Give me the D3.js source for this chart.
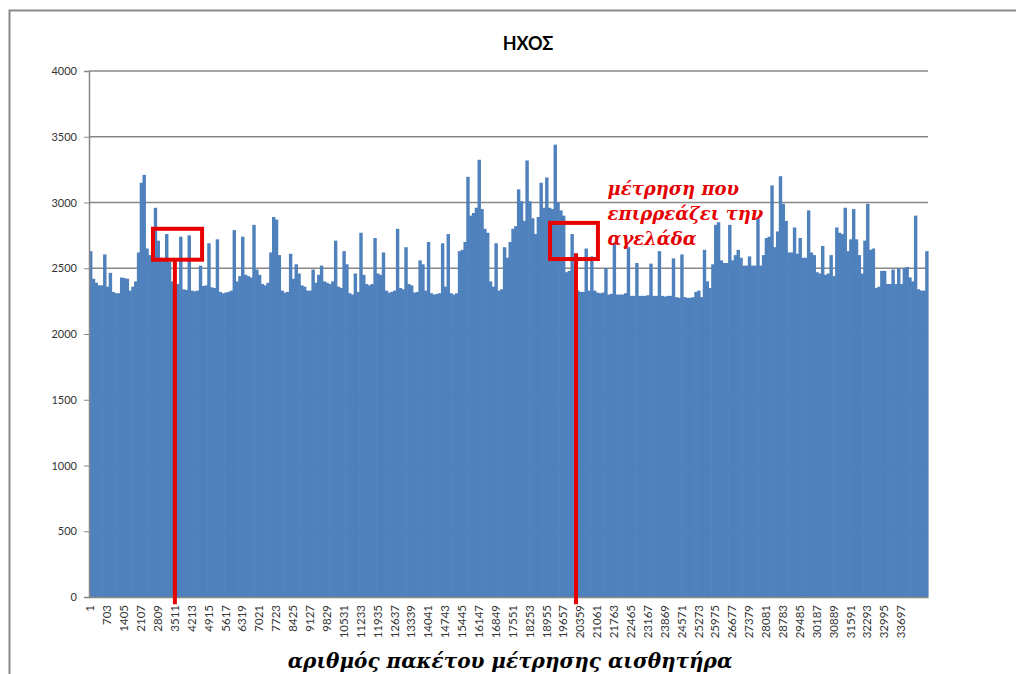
<!DOCTYPE html>
<html>
<head>
<meta charset="utf-8">
<script src="https://cdn.jsdelivr.net/npm/d3@7"></script>
<style>
  body { margin: 0; background: #fff; }
  svg { display: block; }
</style>
</head>
<body>
<script>
// sound level per measurement packet (each value ~ a group of 117 packets)

const title = "ΗΧΟΣ";
const xTitle = "αριθμός πακέτου μέτρησης αισθητήρα";
const noteLines = ["μέτρηση που", "επιρρεάζει την", "αγελάδα"];

const packetStep = 117;

// values, left to right
const sound = [
  2630, 2420, 2390, 2370, 2370, 2605, 2360, 2465, 2320, 2310,
  2310, 2430, 2425, 2420, 2330, 2360, 2400, 2620, 3150, 3210,
  2650, 2600, 2580, 2960, 2710, 2580, 2560, 2760, 2550, 2400,
  2370, 2380, 2740, 2340, 2335, 2750, 2330, 2325, 2330, 2520,
  2365, 2370, 2690, 2355, 2350, 2720, 2320, 2310, 2315, 2320,
  2330, 2790, 2400, 2440, 2740, 2450, 2440, 2430, 2830, 2490,
  2450, 2380, 2370, 2390, 2620, 2890, 2870, 2600, 2330, 2315,
  2320, 2610, 2420, 2530, 2460, 2370, 2360, 2330, 2330, 2490,
  2390, 2450, 2520, 2400, 2390, 2380, 2400, 2710, 2360, 2350,
  2630, 2530, 2310, 2300, 2460, 2320, 2770, 2450, 2380, 2370,
  2380, 2730, 2460, 2450, 2620, 2330, 2315, 2320, 2330, 2800,
  2350, 2340, 2660, 2380, 2370, 2315, 2320, 2560, 2530, 2330,
  2700, 2310, 2300, 2305, 2310, 2690, 2360, 2760, 2310, 2300,
  2310, 2630, 2640, 2700, 3195, 2900, 2920, 2960, 3325, 2950,
  2800, 2770, 2400, 2360, 2690, 2330, 2340, 2660, 2580, 2700,
  2800, 2820, 3100, 3010, 2860, 3320, 3010, 2880, 2760, 2890,
  3150, 2960, 3190, 2960, 2950, 3440, 3000, 2940, 2900, 2470,
  2480, 2760, 2480, 2330, 2320, 2320, 2650, 2330, 2590, 2330,
  2315, 2310, 2315, 2500, 2300, 2305, 2695, 2300, 2300, 2300,
  2310, 2660, 2290, 2290, 2540, 2290, 2290, 2290, 2295, 2535,
  2290, 2290, 2630, 2290, 2285, 2290, 2290, 2575, 2280, 2275,
  2605, 2280, 2275, 2275, 2280, 2320, 2330, 2280, 2640, 2400,
  2350, 2530, 2830, 2850, 2560, 2540, 2540, 2830, 2560, 2600,
  2640, 2580, 2520, 2520, 2590, 2520, 2520, 2880, 2520, 2600,
  2730, 2740, 3130, 2660, 2780, 3200, 2990, 2860, 2620, 2620,
  2810, 2610, 2730, 2580, 2580, 2940, 2620, 2600, 2470, 2460,
  2670, 2450, 2460, 2600, 2440, 2810, 2770, 2760, 2960, 2630,
  2720, 2950, 2720, 2600, 2460, 2710, 2990, 2640, 2650, 2350,
  2360, 2480, 2480, 2380, 2380, 2490, 2380, 2500, 2380, 2500,
  2510, 2430, 2400, 2900, 2340, 2330, 2330, 2630
];

const packets = sound.map((v, i) => 1 + packetStep * i);

const tickLabels = [
  1, 703, 1405, 2107, 2809, 3511, 4213, 4915, 5617, 6319, 7021, 7723,
  8425, 9127, 9829, 10531, 11233, 11935, 12637, 13339, 14041, 14743,
  15445, 16147, 16849, 17551, 18253, 18955, 19657, 20359, 21061, 21763,
  22465, 23167, 23869, 24571, 25273, 25975, 26677, 27379, 28081, 28783,
  29485, 30187, 30889, 31591, 32293, 32995, 33697
];

const yTicks = [0, 500, 1000, 1500, 2000, 2500, 3000, 3500, 4000];

// the two red marked measurements: packet range, value range, pointer packet
const marks = [
  {from: 2660, to: 4700, low: 2565, high: 2800, pointer: 3570, top: 2565},
  {from: 19160, to: 21150, low: 2570, high: 2845, pointer: 20240, top: 2615}
];
const noteAt = {packet: 21550, value: 3057, step: 190};

const width = 1016;
const height = 674;
const margin = {top: 71, right: 88, bottom: 77, left: 89};

const svg = d3.select("body")
    .append("svg")
    .attr("width", width)
    .attr("height", height);

// outer frame (only top and left edges are visible)
svg.append("path")
    .attr("d", "M9.5,674 V10.5 H1016")
    .attr("fill", "none")
    .attr("stroke", "#8a8a8a")
    .attr("stroke-width", 2);

const x = d3.scaleBand()
    .domain(packets)
    .range([margin.left, width - margin.right])
    .padding(0);

const xPk = d3.scaleLinear()
    .domain([1, 1 + packetStep * sound.length])
    .range([margin.left, width - margin.right]);

const y = d3.scaleLinear()
    .domain([0, 4000])
    .range([height - margin.bottom, margin.top]);

// grid lines
svg.append("g")
    .selectAll("line")
    .data(yTicks.slice(1))
    .join("line")
    .attr("x1", margin.left)
    .attr("x2", width - margin.right)
    .attr("y1", d => y(d))
    .attr("y2", d => y(d))
    .attr("stroke", "#878787")
    .attr("stroke-width", 1.5);

// bars
svg.append("g")
    .selectAll("rect")
    .data(sound)
    .join("rect")
    .attr("x", (d, i) => x(packets[i]))
    .attr("y", d => y(d))
    .attr("width", x.bandwidth() + 0.6)
    .attr("height", d => y(0) - y(d))
    .attr("fill", "#4f81bd");

// y axis
const yAxis = svg.append("g")
    .attr("transform", `translate(${margin.left},0)`)
    .call(d3.axisLeft(y).tickValues(yTicks).tickFormat(d3.format("d"))
        .tickSize(5).tickPadding(7));
yAxis.select(".domain").attr("stroke", "#878787").attr("stroke-width", 1.5);
yAxis.selectAll(".tick line").attr("stroke", "#878787");
yAxis.selectAll("text")
    .attr("font-family", "Lato, 'Open Sans', sans-serif")
    .attr("font-size", 11)
    .attr("fill", "#333");

// x axis
const xAxis = svg.append("g")
    .attr("transform", `translate(0,${y(0)})`)
    .call(d3.axisBottom(x).tickValues(tickLabels).tickSize(0).tickPadding(0));
xAxis.select(".domain").attr("stroke", "#878787").attr("stroke-width", 1.5);
xAxis.selectAll("text")
    .attr("font-family", "Lato, 'Open Sans', sans-serif")
    .attr("font-size", 11.5)
    .attr("fill", "#333")
    .attr("text-anchor", "end")
    .attr("transform", "rotate(-90)")
    .attr("x", -8)
    .attr("y", 0)
    .attr("dy", "0.35em");

// title
svg.append("text")
    .attr("x", 528)
    .attr("y", 50)
    .attr("text-anchor", "middle")
    .attr("font-family", "Lato, sans-serif")
    .attr("font-weight", "bold")
    .attr("font-size", 18)
    .attr("fill", "#000")
    .text(title);

// x axis title
svg.append("text")
    .attr("x", 510)
    .attr("y", 668)
    .attr("text-anchor", "middle")
    .attr("font-family", "'DejaVu Serif', serif")
    .attr("font-style", "italic")
    .attr("font-weight", "bold")
    .attr("font-size", 20)
    .attr("fill", "#000")
    .text(xTitle);

// red annotations
const red = "#e60000";
const ann = svg.append("g");
ann.selectAll("rect")
    .data(marks)
    .join("rect")
    .attr("x", d => xPk(d.from))
    .attr("y", d => y(d.high))
    .attr("width", d => xPk(d.to) - xPk(d.from))
    .attr("height", d => y(d.low) - y(d.high))
    .attr("fill", "none")
    .attr("stroke", red)
    .attr("stroke-width", 4);
ann.selectAll("line")
    .data(marks)
    .join("line")
    .attr("x1", d => xPk(d.pointer))
    .attr("x2", d => xPk(d.pointer))
    .attr("y1", d => y(d.top))
    .attr("y2", y(-55))
    .attr("stroke", red)
    .attr("stroke-width", 4);

ann.selectAll("text")
    .data(noteLines)
    .join("text")
    .attr("x", xPk(noteAt.packet))
    .attr("y", (d, i) => y(noteAt.value - i * noteAt.step))
    .attr("font-family", "'DejaVu Serif', serif")
    .attr("font-style", "italic")
    .attr("font-weight", "bold")
    .attr("font-size", 18)
    .attr("fill", red)
    .text(d => d);
</script>
</body>
</html>
